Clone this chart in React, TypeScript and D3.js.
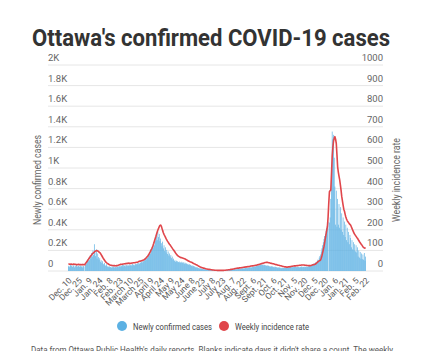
import React from "react";
import * as d3 from "d3";

const tickLabels = ["Dec. 10","Dec. 25","Jan. 9","Jan. 24","Feb. 8","Feb. 23","March 10","March 25","April 9","April 24","May 9","May 24","June 8","June 23","July 8","July 23","Aug. 7","Aug. 22","Sept. 6","Sept. 21","Oct. 6","Oct. 21","Nov. 5","Nov. 20","Dec. 5","Dec. 20","Jan. 6","Jan. 21","Feb. 5","Feb. 22"];

const leftTicks = [0, 200, 400, 600, 800, 1000, 1200, 1400, 1600, 1800, 2000];
const rightTicks = [0, 100, 200, 300, 400, 500, 600, 700, 800, 900, 1000];

const cases: (number | null)[] = [
  45,52,38,61,47,55,40,49,58,36,50,44,62,41,47,53,39,57,46,42,51,35,48,44,null,
  60,85,72,110,95,130,105,150,120,175,140,200,155,260,180,145,210,120,170,135,110,
  125,90,105,78,95,70,62,80,55,48,66,42,50,38,45,35,
  40,33,47,36,42,30,44,38,35,48,41,37,52,45,43,
  55,47,60,42,58,50,63,45,56,61,48,54,66,51,57,62,49,70,58,64,55,72,60,68,75,63,80,
  70,85,78,92,81,100,95,110,98,125,115,140,128,160,150,185,170,210,195,240,225,280,250,310,290,345,300,382,330,360,290,315,
  270,240,285,220,250,195,230,180,205,165,190,150,170,140,155,125,140,110,120,98,105,90,100,85,95,88,80,92,84,78,90,82,75,86,72,80,68,74,65,70,
  60,66,55,60,50,56,46,50,42,45,36,40,32,35,28,30,24,27,22,24,19,21,17,18,14,16,12,13,10,11,9,10,8,7,9,6,8,5,7,4,
  6,5,3,6,4,5,3,6,4,5,7,4,6,8,5,9,7,10,8,11,9,13,10,15,12,16,14,18,15,19,17,21,18,22,20,24,21,26,23,27,
  24,29,25,30,27,32,28,34,30,36,32,38,34,41,37,44,40,48,43,52,47,56,50,60,54,64,57,66,58,63,55,60,52,58,50,55,47,52,44,49,
  42,47,40,45,38,43,36,41,34,39,32,37,30,35,28,33,27,31,26,30,28,33,29,34,31,36,32,38,34,40,35,41,37,43,38,44,39,42,37,41,
  36,40,35,42,38,44,36,41,39,43,37,42,38,45,40,47,43,52,46,58,50,66,62,70,75,68,85,80,95,110,105,130,145,160,190,220,250,280,310,340,
  360,390,420,450,480,null,470,520,700,1000,1354,1280,1322,1100,820,450,780,430,700,450,650,420,620,400,560,380,520,350,480,330,450,300,420,280,380,260,350,320,230,300,
  210,280,200,260,190,250,180,230,140,200,130,185,120,170,115,160,110,175,100,140
];

const rate: number[] = [
  34,34,33,33,34,33,32,33,34,33,32,32,31,31,32,33,32,31,31,30,31,32,31,30,30,
  37,40,45,50,55,59,64,70,74,78,82,86,89,92,95,97,98,99,
  97,95,92,89,86,80,74,68,62,57,52,47,43,40,37,35,33,31,29,
  28,28,27,27,26,26,26,25,26,26,27,28,29,30,32,
  32,33,33,34,34,35,35,36,36,37,37,38,38,37,37,38,39,39,40,40,40,
  41,41,42,43,44,46,47,48,49,50,51,52,53,
  55,58,61,64,68,72,76,82,88,94,101,108,116,125,135,146,157,167,178,189,199,207,215,221,223,
  218,207,196,186,178,171,164,157,151,145,140,135,130,126,121,116,111,106,102,97,92,87,82,78,75,72,70,68,66,65,64,63,62,61,59,58,56,54,52,50,
  48,47,45,44,42,41,39,37,35,34,32,30,29,27,25,23,21,19,18,17,16,15,14,13,12,11,10,10,9,8,8,7,7,6,6,5,5,5,4,4,
  4,4,3,3,3,3,3,3,3,3,3,3,4,4,4,5,5,5,6,6,6,7,8,8,9,10,10,11,12,12,13,13,14,14,15,15,16,16,17,17,
  18,18,19,19,20,20,21,21,22,22,23,24,24,25,25,26,27,27,28,28,29,30,31,32,33,34,35,36,37,38,39,40,41,41,42,42,41,40,40,39,
  38,37,36,35,35,34,33,32,31,30,29,28,28,27,26,25,24,23,22,22,21,20,20,19,19,19,20,20,21,21,22,23,23,24,24,25,25,25,26,26,
  27,27,28,28,28,29,29,29,29,29,28,28,28,27,27,27,26,26,26,27,28,29,30,31,32,33,35,38,41,44,47,49,51,53,62,74,88,103,118,138,
  158,178,197,215,260,328,385,390,393,470,555,600,630,645,652,640,620,565,506,480,460,442,418,393,362,340,320,300,290,275,262,252,245,239,235,230,226,223,215,207,
  199,191,183,178,173,168,163,159,153,148,142,137,132,128,123,118,114,112,111,110
];

const W = 429, H = 351;
const BLUE = "#5cb1e3";
const RED = "#e0464b";
const FONT = "Roboto, 'Noto Sans', sans-serif";

export default function App() {
  const n = cases.length;
  const x = d3.scaleBand<number>().domain(d3.range(n)).range([68, 366]).padding(0);
  const bw = x.bandwidth();
  const yL = d3.scaleLinear().domain([0, 2000]).range([271, 65]);
  const yR = d3.scaleLinear().domain([0, 1000]).range([271, 65]);
  const line = d3.line<number>()
    .x((_, i) => (x(i) as number) + bw / 2)
    .y((d) => yR(d));
  const fmtL = (v: number) => (v === 0 ? "0" : `${v / 1000}K`);

  return (
    <svg width={W} height={H} style={{ position: "absolute", left: 0, top: 0, background: "#fff" }} fontFamily={FONT}>
      <text x={211} y={46} textAnchor="middle" fontSize={23} fontWeight={700} fill="#333" textLength={358} lengthAdjust="spacingAndGlyphs">
        Ottawa's confirmed COVID-19 cases
      </text>
      {leftTicks.map((t) => (
        <g key={"g" + t}>
          <line x1={48} x2={383} y1={yL(t)} y2={yL(t)} stroke="#e6e6e6" strokeWidth={1} />
          <text x={48} y={yL(t) - 4} fontSize={9.5} fill="#666">{fmtL(t)}</text>
        </g>
      ))}
      {rightTicks.map((t) => (
        <text key={"r" + t} x={383} y={yR(t) - 4} fontSize={9.5} fill="#666" textAnchor="end">{t}</text>
      ))}
      <text transform="translate(41,180) rotate(-90)" textAnchor="middle" fontSize={10} fill="#666" textLength={90} lengthAdjust="spacingAndGlyphs">Newly confirmed cases</text>
      <text transform="translate(400,180) rotate(-90)" textAnchor="middle" fontSize={10} fill="#666" textLength={84} lengthAdjust="spacingAndGlyphs">Weekly incidence rate</text>
      <g>
        {cases.map((v, i) =>
          v == null ? null : (
            <rect key={i} x={x(i)} y={yL(v)} width={bw} height={yL(0) - yL(v)} fill={BLUE} />
          )
        )}
      </g>
      <path d={line(rate) || ""} fill="none" stroke={RED} strokeWidth={1.6} strokeLinejoin="round" />
      {tickLabels.map((lab, k) => {
        const cx = (x(k * 15) as number) + bw / 2;
        return (
          <text key={lab + k} transform={`translate(${cx + 4},281) rotate(-45)`} textAnchor="end" fontSize={8.5} fill="#5a5a5a">
            {lab}
          </text>
        );
      })}
      <circle cx={122} cy={326} r={5} fill={BLUE} />
      <text x={133} y={329.5} fontSize={9.3} fill="#444" textLength={79} lengthAdjust="spacingAndGlyphs">Newly confirmed cases</text>
      <circle cx={224} cy={326} r={5} fill={RED} />
      <text x={235} y={329.5} fontSize={9.3} fill="#444" textLength={74} lengthAdjust="spacingAndGlyphs">Weekly incidence rate</text>
      <text x={31} y={353} fontSize={9.5} fill="#555" textLength={362} lengthAdjust="spacingAndGlyphs">
        Data from Ottawa Public Health's daily reports. Blanks indicate days it didn't share a count. The weekly
      </text>
    </svg>
  );
}
